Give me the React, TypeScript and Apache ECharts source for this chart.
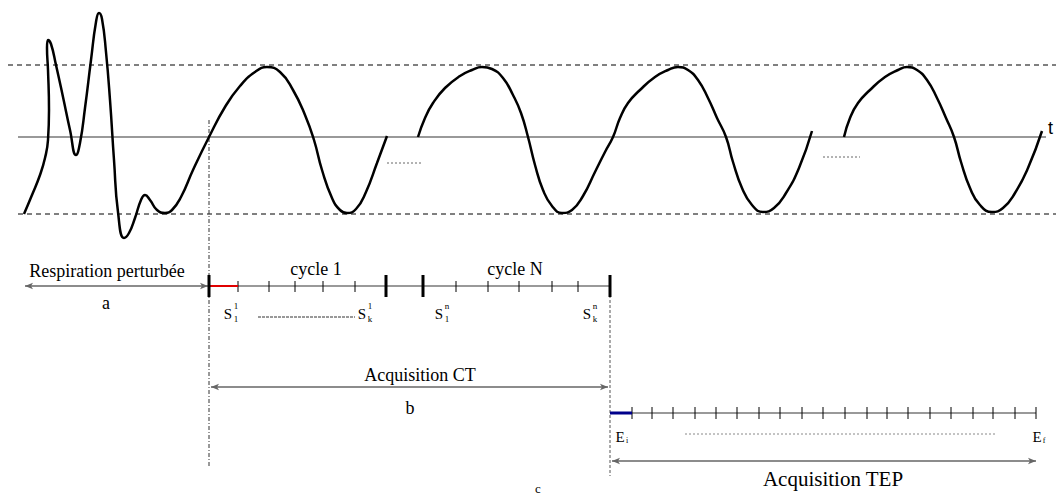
import { useEffect, useRef } from "react";
import * as echarts from "echarts";

type P = [number, number];

// Respiratory signal (x: time in px units, y: amplitude in px units, downward)
const curveSeg1: P[] = [
  [24, 214], [32, 195], [40, 175], [45, 158], [48, 140], [49, 110], [48, 70], [47, 48], [48, 40],
  [51, 44], [56, 65], [63, 97], [70, 130], [76, 155], [80, 143], [85, 108], [91, 60], [96, 22],
  [99, 13], [102, 19], [106, 52], [110, 100], [114, 160], [118, 212], [124, 238], [129, 233],
  [135, 218], [141, 200], [145, 195], [150, 200], [157, 210], [165, 213], [172, 210], [181, 197],
  [193, 170], [209, 137], [225, 107], [240, 86], [255, 72], [267, 67], [280, 72], [293, 90],
  [305, 115], [314, 140], [322, 170], [332, 198], [340, 210], [347, 213], [356, 209], [366, 192],
  [377, 163], [387, 136],
];
const curveSeg2: P[] = [
  [418, 137], [425, 118], [433, 103], [445, 88], [460, 76], [472, 70], [482, 67], [492, 69],
  [503, 78], [513, 95], [521, 113], [528, 137], [535, 165], [543, 190], [552, 206], [562, 213],
  [572, 210], [583, 196], [595, 172], [605, 152], [613, 137], [620, 118], [628, 103], [640, 90],
  [655, 77], [668, 70], [678, 67], [688, 70], [698, 80], [708, 98], [717, 118], [726, 137],
  [733, 162], [742, 188], [752, 205], [763, 212], [774, 208], [786, 193], [799, 168], [812, 131],
];
const curveSeg3: P[] = [
  [844, 137], [850, 118], [858, 103], [870, 90], [885, 77], [898, 70], [907, 67], [917, 70],
  [927, 80], [937, 98], [946, 118], [954, 137], [961, 162], [970, 188], [980, 205], [992, 212],
  [1003, 208], [1015, 193], [1028, 168], [1042, 131],
];

// Reference levels
const levelTop = 65;
const levelMid = 137;
const levelBottom = 214;

// Timelines
const timelineY = 286;
const thickTicks = [209, 386, 423, 610];
const cycle1Ticks = [238, 269, 295, 323, 355];
const cycleNTicks = [456, 488, 519, 552, 578];
const ctArrowY = 387;
const tepLineY = 413;
const tepTicks = [632, 652, 673, 695, 716, 737, 759, 780, 802, 823, 845, 867, 887, 908, 930, 951, 973, 993, 1015, 1036];
const tepArrowY = 461;

const serif = "'Liberation Serif', 'DejaVu Serif', serif";

function seg(points: P[], lineStyle: any, extra: any = {}) {
  return {
    type: "line",
    data: points,
    symbol: "none",
    silent: true,
    lineStyle,
    z: 2,
    ...extra,
  };
}

function arrow(x1: number, x2: number, y: number) {
  return [
    { coord: [x1, y], symbol: "arrow", symbolSize: [5, 8] },
    { coord: [x2, y], symbol: "arrow", symbolSize: [5, 8] },
  ];
}

function text(t: string, x: number, y: number, size: number, extra: any = {}) {
  return {
    type: "text",
    x,
    y,
    silent: true,
    style: {
      text: t,
      font: `${size}px ${serif}`,
      fill: "#000",
      align: "center",
      verticalAlign: "middle",
      ...extra,
    },
  };
}

function sLabel(x: number, y: number, sup: string, sub: string) {
  return [
    text("S", x, y, 15),
    text(sup, x + 8, y - 8, 9),
    text(sub, x + 8, y + 5, 9),
  ];
}

export default function App() {
  const ref = useRef<HTMLDivElement>(null);
  useEffect(() => {
    const chart = echarts.init(ref.current!, null, { renderer: "svg" });
    const black = "#000";
    const gray = "#777";
    const series: any[] = [];

    series.push(seg([[8, levelTop], [1056, levelTop]], { color: black, width: 1, type: [5, 4] }));
    series.push(seg([[18, levelBottom], [1056, levelBottom]], { color: black, width: 1, type: [5, 4] }));
    series.push(seg([[18, levelMid], [1046, levelMid]], { color: gray, width: 1.5 }));

    // guides
    series.push(seg([[209, 120], [209, 468]], { color: "#333", width: 1, type: [4, 2, 1, 2] }));
    series.push(seg([[610, 290], [610, 476]], { color: "#555", width: 1, type: [3, 2] }));

    for (const c of [curveSeg1, curveSeg2, curveSeg3]) {
      series.push(seg(c, { color: black, width: 2.5 }, { smooth: 0.5, z: 5 }));
    }

    // dotted continuation marks
    series.push(seg([[387, 163], [423, 163]], { color: "#666", width: 1, type: [2, 2] }));
    series.push(seg([[823, 157], [860, 157]], { color: "#666", width: 1, type: [2, 2] }));

    // Timeline 1
    series.push(seg([[209, timelineY], [610, timelineY]], { color: gray, width: 1.5 }));
    series.push(seg([[209, timelineY], [cycle1Ticks[0], timelineY]], { color: "#e00000", width: 2 }, { z: 4 }));
    for (const x of thickTicks) {
      series.push(seg([[x, 275], [x, 297]], { color: black, width: 3 }, { z: 6 }));
    }
    for (const x of [...cycle1Ticks, ...cycleNTicks]) {
      series.push(seg([[x, 281], [x, 292]], { color: black, width: 1 }));
    }
    series.push(seg([[258, 317], [355, 317]], { color: "#333", width: 1, type: [3, 1] }));

    // TEP timeline
    series.push(seg([[610, tepLineY], [1036, tepLineY]], { color: gray, width: 1.5 }));
    series.push(seg([[610, tepLineY], [tepTicks[0], tepLineY]], { color: "#00008b", width: 3 }, { z: 4 }));
    for (const x of tepTicks) {
      series.push(seg([[x, 407], [x, 419]], { color: black, width: 1 }));
    }
    series.push(seg([[685, 434], [996, 434]], { color: "#888", width: 1, type: [2, 2] }));

    // Arrows
    series.push({
      type: "line",
      data: [],
      silent: true,
      markLine: {
        silent: true,
        animation: false,
        label: { show: false },
        lineStyle: { color: "#666", width: 1.5, type: "solid" },
        symbol: ["arrow", "arrow"],
        data: [arrow(25, 208, timelineY), arrow(211, 608, ctArrowY), arrow(612, 1036, tepArrowY)],
      },
    });

    const graphic: any[] = [
      {
        type: "text",
        x: 1048,
        y: 128,
        silent: true,
        style: { text: "t", font: "18px 'Liberation Sans', sans-serif", fill: "#000", align: "left", verticalAlign: "middle" },
      },
      text("Respiration perturbée", 107, 271, 18),
      text("a", 106, 303, 18),
      text("cycle 1", 316, 269, 18),
      text("cycle N", 515, 269, 18),
      ...sLabel(228, 314, "1", "1"),
      ...sLabel(362, 314, "1", "k"),
      ...sLabel(439, 314, "n", "1"),
      ...sLabel(587, 314, "n", "k"),
      text("Acquisition CT", 420, 375, 18),
      text("b", 410, 408, 18),
      text("E", 620, 437, 15),
      text("i", 627, 440, 8),
      text("E", 1037, 437, 15),
      text("f", 1044, 440, 8),
      text("Acquisition TEP", 833, 479, 21),
      text("c", 538, 488, 13),
    ];

    chart.setOption({
      animation: false,
      backgroundColor: "#fff",
      grid: { left: 0, right: 0, top: 0, bottom: 0 },
      xAxis: { type: "value", min: 0, max: 1056, show: false },
      yAxis: { type: "value", min: 0, max: 498, inverse: true, show: false },
      series,
      graphic,
    });
    return () => chart.dispose();
  }, []);
  return (
    <div
      ref={ref}
      style={{ position: "fixed", left: 0, top: 0, width: 1056, height: 498, background: "#fff" }}
    />
  );
}
